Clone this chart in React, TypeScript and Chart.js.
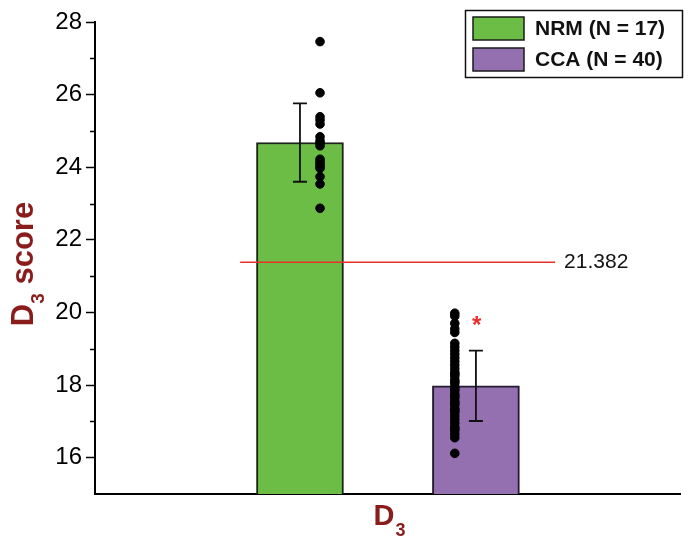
import React, { useEffect, useRef } from "react";
import { Chart, registerables } from "chart.js";

Chart.register(...registerables);

const categories = ["NRM (N = 17)", "CCA (N = 40)"];
const categoryX = [1, 2];
const means = [24.68, 17.98];
const sds = [1.08, 0.97];
const barColors = ["#6cbd45", "#9470b0"];
const dotOffsets = [0.114, -0.12];
const nrmDots = [27.46, 26.05, 25.39, 25.3, 25.19, 24.84, 24.73, 24.66, 24.59, 24.22, 24.15, 24.09, 24.02, 23.97, 23.74, 23.54, 22.87];
const ccaDots = [19.98, 19.9, 19.7, 19.55, 19.45, 19.15, 19.05, 18.95, 18.85, 18.75, 18.65, 18.55, 18.45, 18.35, 18.25, 18.15, 18.05, 17.95, 17.85, 17.75, 17.65, 17.55, 17.45, 17.35, 17.25, 17.15, 17.05, 16.95, 16.85, 16.75, 16.65, 16.55, 18.3, 18.1, 17.9, 17.7, 17.5, 17.3, 16.8, 16.12];
const refValue = 21.382;
const refRange = [0.66, 2.45];
const starPos = { x: 2.005, y: 19.78 };
const yMin = 15;
const yMax = 28;
const yMajorTicks = [16, 18, 20, 22, 24, 26, 28];
const yMinorTicks = [17, 19, 21, 23, 25, 27];

const FONT = "'Liberation Sans', Arial, Helvetica, sans-serif";
const TITLE_COLOR = "#8a1c1c";

const customPlugin = {
  id: "custom",
  afterDatasetsDraw(chart: any) {
    const ctx = chart.ctx;
    const xs = chart.scales.x;
    const ys = chart.scales.y;
    ctx.save();
    // error bars
    ctx.strokeStyle = "#111";
    ctx.lineWidth = 1.8;
    for (let i = 0; i < means.length; i++) {
      const px = xs.getPixelForValue(categoryX[i]);
      const top = ys.getPixelForValue(means[i] + sds[i]);
      const bot = ys.getPixelForValue(means[i] - sds[i]);
      ctx.beginPath();
      ctx.moveTo(px, top);
      ctx.lineTo(px, bot);
      ctx.moveTo(px - 7, top);
      ctx.lineTo(px + 7, top);
      ctx.moveTo(px - 7, bot);
      ctx.lineTo(px + 7, bot);
      ctx.stroke();
    }
    // minor ticks
    ctx.lineWidth = 1.5;
    ctx.strokeStyle = "#000";
    const ax = chart.chartArea.left;
    for (const v of yMinorTicks) {
      const py = Math.round(ys.getPixelForValue(v)) + 0.5;
      ctx.beginPath();
      ctx.moveTo(ax - 5, py);
      ctx.lineTo(ax, py);
      ctx.stroke();
    }
    // reference label
    ctx.fillStyle = "#111";
    ctx.font = `21px ${FONT}`;
    ctx.textAlign = "left";
    ctx.textBaseline = "middle";
    ctx.fillText(String(refValue), xs.getPixelForValue(refRange[1]) + 9, ys.getPixelForValue(refValue));
    // asterisk
    ctx.fillStyle = "#e8302a";
    ctx.font = `bold 24px ${FONT}`;
    ctx.textAlign = "center";
    ctx.textBaseline = "alphabetic";
    ctx.fillText("*", xs.getPixelForValue(starPos.x), ys.getPixelForValue(starPos.y) + 13);
    ctx.restore();
  },
  afterDraw(chart: any) {
    const ctx = chart.ctx;
    const area = chart.chartArea;
    ctx.save();
    // y title
    ctx.fillStyle = TITLE_COLOR;
    ctx.translate(33, (area.top + area.bottom) / 2 + 6);
    ctx.rotate(-Math.PI / 2);
    const big = `bold 31px ${FONT}`;
    const small = `bold 19px ${FONT}`;
    ctx.font = big;
    const wD = ctx.measureText("D").width;
    const wS = ctx.measureText(" score").width;
    ctx.font = small;
    const w3 = ctx.measureText("3").width;
    const total = wD + w3 + wS;
    let cx = -total / 2;
    ctx.textAlign = "left";
    ctx.textBaseline = "alphabetic";
    ctx.font = big;
    ctx.fillText("D", cx, 0);
    cx += wD;
    ctx.font = small;
    ctx.fillText("3", cx, 11);
    cx += w3;
    ctx.font = big;
    ctx.fillText(" score", cx, 0);
    ctx.restore();

    // x title
    ctx.save();
    ctx.fillStyle = TITLE_COLOR;
    const bigX = `bold 29px ${FONT}`;
    const smallX = `bold 18px ${FONT}`;
    ctx.font = bigX;
    const xD = ctx.measureText("D").width;
    ctx.font = smallX;
    const x3 = ctx.measureText("3").width;
    let sx = 389 - (xD + x3) / 2;
    ctx.textAlign = "left";
    ctx.textBaseline = "alphabetic";
    ctx.font = bigX;
    ctx.fillText("D", sx, 525);
    ctx.font = smallX;
    ctx.fillText("3", sx + xD + 1, 536);
    ctx.restore();

    // legend
    ctx.save();
    ctx.strokeStyle = "#111";
    ctx.lineWidth = 1.5;
    ctx.strokeRect(465.5, 10.5, 217, 67);
    const rows = [17, 48];
    for (let i = 0; i < categories.length; i++) {
      ctx.fillStyle = barColors[i];
      ctx.fillRect(473, rows[i], 51, 23);
      ctx.strokeStyle = "#1a1a1a";
      ctx.lineWidth = 1.5;
      ctx.strokeRect(473, rows[i], 51, 23);
      ctx.fillStyle = "#111";
      ctx.font = `bold 21px ${FONT}`;
      ctx.textAlign = "left";
      ctx.textBaseline = "middle";
      ctx.fillText(categories[i], 535, rows[i] + 12.5);
    }
    ctx.restore();
  },
};

export default function App() {
  const ref = useRef<HTMLCanvasElement | null>(null);
  useEffect(() => {
    document.body.style.margin = "0";
    if (!ref.current) return;
    Chart.defaults.font.family = FONT;
    const chart = new Chart(ref.current, {
      type: "bar",
      data: {
        datasets: [
          {
            type: "line",
            label: "ref",
            data: [
              { x: refRange[0], y: refValue },
              { x: refRange[1], y: refValue },
            ],
            borderColor: "#e8302a",
            borderWidth: 1.5,
            pointRadius: 0,
            order: 0,
          } as any,
          {
            type: "scatter",
            label: "nrmDots",
            data: nrmDots.map((v) => ({ x: categoryX[0] + dotOffsets[0], y: v })),
            backgroundColor: "#000",
            borderColor: "#000",
            pointRadius: 4.3,
            order: 1,
          },
          {
            type: "scatter",
            label: "ccaDots",
            data: ccaDots.map((v) => ({ x: categoryX[1] + dotOffsets[1], y: v })),
            backgroundColor: "#000",
            borderColor: "#000",
            pointRadius: 4.3,
            order: 1,
          },
          {
            type: "bar",
            label: categories[0],
            data: [{ x: categoryX[0], y: means[0] }],
            backgroundColor: barColors[0],
            borderColor: "#1c2616",
            borderWidth: 2,
            barThickness: 87,
            grouped: false,
            borderSkipped: "bottom",
            order: 2,
          } as any,
          {
            type: "bar",
            label: categories[1],
            data: [{ x: categoryX[1], y: means[1] }],
            backgroundColor: barColors[1],
            borderColor: "#241a2e",
            borderWidth: 2,
            barThickness: 87,
            grouped: false,
            borderSkipped: "bottom",
            order: 2,
          } as any,
        ],
      },
      options: {
        responsive: false,
        animation: false,
        devicePixelRatio: 1,
        layout: { padding: { left: 0, right: 13, top: 22, bottom: 0 } },
        plugins: { legend: { display: false }, tooltip: { enabled: false } },
        scales: {
          x: {
            type: "linear",
            offset: false,
            min: -0.165,
            max: 3.16,
            ticks: { display: false },
            grid: { display: false, drawTicks: false, offset: false },
            border: { display: true, color: "#000", width: 2 },
            afterFit: (s: any) => {
              s.height = 54;
            },
          },
          y: {
            type: "linear",
            min: yMin,
            max: yMax,
            ticks: {
              stepSize: 2,
              color: "#000",
              font: { size: 24, family: FONT },
              padding: 4,
              callback: (v: any) => (yMajorTicks.includes(Number(v)) ? String(v) : ""),
            },
            grid: {
              drawOnChartArea: false,
              tickLength: 9,
              tickWidth: 1.5,
              tickColor: (c: any) => (c.tick && yMajorTicks.includes(c.tick.value) ? "#000" : "rgba(0,0,0,0)"),
            },
            border: { display: true, color: "#000", width: 2 },
            afterFit: (s: any) => {
              s.width = 95;
            },
          },
        },
      } as any,
      plugins: [customPlugin],
    });
    return () => chart.destroy();
  }, []);
  return (
    <div style={{ position: "absolute", left: 0, top: 0, width: 693, height: 548, background: "#fff" }}>
      <canvas ref={ref} width={693} height={548} />
    </div>
  );
}
